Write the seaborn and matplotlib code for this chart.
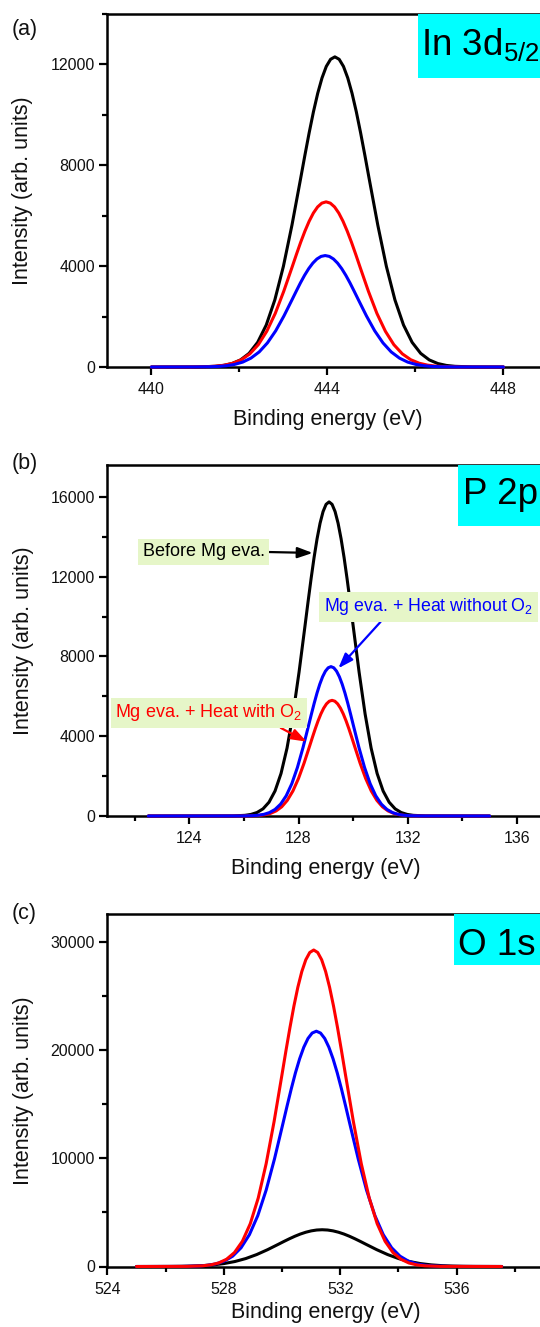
import matplotlib
matplotlib.use("Agg")
import matplotlib.pyplot as plt
import seaborn as sns
from matplotlib.patches import Rectangle
from matplotlib.ticker import MultipleLocator

sns.set_theme(style="ticks")
plt.rcParams['font.family'] = ['Liberation Sans', 'DejaVu Sans']
plt.rcParams['mathtext.fontset'] = 'custom'
plt.rcParams['mathtext.rm'] = 'Liberation Sans'
plt.rcParams['mathtext.it'] = 'Liberation Sans:italic'

# ---------------- Panel (a) In 3d5/2 ----------------
a_x_black = [440.0, 441.05, 441.44, 441.635, 441.83, 442.025, 442.22, 442.415, 442.61, 442.805, 443.0, 443.195,
             443.39, 443.4875, 443.585, 443.6825, 443.78, 443.8775, 443.975, 444.0725, 444.17, 444.2675, 444.365,
             444.4625, 444.56, 444.6575, 444.755, 444.8525, 444.95, 445.145, 445.34, 445.535, 445.73, 445.925,
             446.12, 446.315, 446.51, 446.705, 446.9, 447.29, 448.0]
a_y_black = [0, 4, 27, 62, 137, 281, 540, 979, 1665, 2660, 3993, 5631, 7460, 8388, 9285, 10119, 10855, 11464,
             11922, 12204, 12300, 12204, 11922, 11464, 10855, 10119, 9285, 8388, 7460, 5631, 3993, 2660, 1665,
             979, 540, 281, 137, 62, 27, 4, 0]
a_x_red = [440.0, 440.89, 441.275, 441.467, 441.66, 441.852, 442.045, 442.237, 442.43, 442.622, 442.815, 443.007,
           443.2, 443.296, 443.392, 443.489, 443.585, 443.681, 443.777, 443.874, 443.97, 444.066, 444.163,
           444.259, 444.355, 444.451, 444.548, 444.644, 444.74, 444.933, 445.125, 445.318, 445.51, 445.703,
           445.895, 446.088, 446.28, 446.473, 446.665, 447.05, 448.0]
a_y_red = [0, 2, 14, 33, 73, 149, 288, 521, 886, 1417, 2126, 2999, 3973, 4467, 4944, 5388, 5780, 6105, 6348,
           6499, 6550, 6499, 6348, 6105, 5780, 5388, 4944, 4467, 3973, 2999, 2126, 1417, 886, 521, 288, 149, 73,
           33, 14, 2, 0]
a_x_blue = [440.0, 440.95, 441.325, 441.512, 441.7, 441.887, 442.075, 442.262, 442.45, 442.637, 442.825, 443.012,
            443.2, 443.294, 443.387, 443.481, 443.575, 443.669, 443.762, 443.856, 443.95, 444.044, 444.138,
            444.231, 444.325, 444.419, 444.513, 444.606, 444.7, 444.888, 445.075, 445.263, 445.45, 445.638,
            445.825, 446.013, 446.2, 446.388, 446.575, 446.95, 448.0]
a_y_blue = [0, 2, 10, 22, 49, 101, 194, 352, 598, 956, 1435, 2024, 2681, 3014, 3336, 3636, 3901, 4120, 4284,
            4386, 4420, 4386, 4284, 4120, 3901, 3636, 3336, 3014, 2681, 2024, 1435, 956, 598, 352, 194, 101, 49,
            22, 10, 2, 0]

# ---------------- Panel (b) P 2p ----------------
b_x_black = [122.5, 125.6, 126.04, 126.26, 126.48, 126.7, 126.92, 127.14, 127.36, 127.58, 127.8, 128.02, 128.24,
             128.35, 128.46, 128.57, 128.68, 128.79, 128.9, 129.01, 129.12, 129.23, 129.34, 129.45, 129.56, 129.67,
             129.78, 129.89, 130.0, 130.22, 130.44, 130.66, 130.88, 131.1, 131.32, 131.54, 131.76, 131.98, 132.2,
             132.64, 135.0]
b_y_black = [0, 5, 34, 80, 175, 359, 692, 1253, 2132, 3406, 5113, 7211, 9553, 10741, 11889, 12957, 13899, 14680,
             15265, 15627, 15750, 15627, 15265, 14680, 13899, 12957, 11889, 10741, 9553, 7211, 5113, 3406, 2132,
             1253, 692, 359, 175, 80, 34, 5, 0]
b_x_red = [122.5, 125.95, 126.36, 126.565, 126.77, 126.975, 127.18, 127.385, 127.59, 127.795, 128.0, 128.205,
           128.41, 128.5125, 128.615, 128.7175, 128.82, 128.9225, 129.025, 129.1275, 129.23, 129.3325, 129.435,
           129.5375, 129.64, 129.7425, 129.845, 129.9475, 130.05, 130.255, 130.46, 130.665, 130.87, 131.075,
           131.28, 131.485, 131.69, 131.895, 132.1, 132.51, 135.0]
b_y_red = [0, 2, 13, 29, 64, 132, 255, 461, 785, 1254, 1883, 2655, 3518, 3955, 4378, 4771, 5119, 5406, 5622,
           5755, 5800, 5755, 5622, 5406, 5119, 4771, 4378, 3955, 3518, 2655, 1883, 1254, 785, 461, 255, 132, 64,
           29, 13, 2, 0]
b_x_blue = [122.5, 125.91, 126.32, 126.525, 126.73, 126.935, 127.14, 127.345, 127.55, 127.755, 127.96, 128.165,
            128.37, 128.4725, 128.575, 128.6775, 128.78, 128.8825, 128.985, 129.0875, 129.19, 129.2925, 129.395,
            129.4975, 129.6, 129.7025, 129.805, 129.9075, 130.01, 130.215, 130.42, 130.625, 130.83, 131.035,
            131.24, 131.445, 131.65, 131.855, 132.06, 132.47, 135.0]
b_y_blue = [0, 3, 16, 38, 83, 171, 329, 596, 1014, 1620, 2432, 3429, 4543, 5108, 5654, 6162, 6610, 6981, 7260,
            7432, 7490, 7432, 7260, 6981, 6610, 6162, 5654, 5108, 4543, 3429, 2432, 1620, 1014, 596, 329, 171, 83,
            38, 16, 3, 0]

# ---------------- Panel (c) O 1s ----------------
c_x_black = [525.0, 525.38, 526.13, 526.505, 526.88, 527.255, 527.63, 528.005, 528.38, 528.755, 529.13, 529.505,
             529.88, 530.0675, 530.255, 530.4425, 530.63, 530.8175, 531.005, 531.1925, 531.38, 531.5675, 531.755,
             531.9425, 532.13, 532.3175, 532.505, 532.6925, 532.88, 533.255, 533.63, 534.005, 534.38, 534.755,
             535.13, 535.505, 535.88, 536.255, 536.63, 537.38, 537.55]
c_y_black = [0, 1, 7, 17, 38, 78, 149, 271, 460, 735, 1104, 1557, 2062, 2319, 2566, 2797, 3001, 3169, 3295, 3374,
             3400, 3374, 3295, 3169, 3001, 2797, 2566, 2319, 2062, 1557, 1104, 735, 460, 271, 149, 78, 38, 17, 7,
             1, 0]
c_x_blue = [525.0, 526.58, 527.155, 527.443, 527.73, 528.018, 528.305, 528.593, 528.88, 529.168, 529.455, 529.743,
            530.03, 530.174, 530.318, 530.461, 530.605, 530.749, 530.893, 531.036, 531.18, 531.324, 531.468,
            531.611, 531.755, 531.899, 532.043, 532.186, 532.33, 532.618, 532.905, 533.193, 533.48, 533.768,
            534.055, 534.343, 534.63, 534.918, 535.205, 535.78, 537.55]
c_y_blue = [0, 7, 48, 111, 242, 497, 956, 1731, 2945, 4706, 7064, 9962, 13198, 14839, 16425, 17901, 19203, 20281,
            21090, 21591, 21760, 21591, 21090, 20281, 19203, 17901, 16425, 14839, 13198, 9962, 7064, 4706, 2945,
            1731, 956, 497, 242, 111, 48, 7, 0]
c_x_red = [525.0, 526.73, 527.275, 527.548, 527.82, 528.093, 528.365, 528.638, 528.91, 529.183, 529.455, 529.728,
           530.0, 530.136, 530.273, 530.409, 530.545, 530.681, 530.818, 530.954, 531.09, 531.226, 531.363,
           531.499, 531.635, 531.771, 531.908, 532.044, 532.18, 532.453, 532.725, 532.998, 533.27, 533.543,
           533.815, 534.088, 534.36, 534.633, 534.905, 535.45, 537.55]
c_y_red = [0, 10, 64, 149, 325, 668, 1286, 2329, 3961, 6330, 9503, 13401, 17753, 19960, 22094, 24079, 25831,
           27281, 28369, 29042, 29270, 29042, 28369, 27281, 25831, 24079, 22094, 19960, 17753, 13401, 9503, 6330,
           3961, 2329, 1286, 668, 325, 149, 64, 10, 0]

panel_letters = ["(a)", "(b)", "(c)"]
panel_titles = ["In 3d$_\\mathregular{5/2}$", "P 2p", "O 1s"]
xlims = [(439, 449), (121, 137), (524, 539)]
ylims = [(0, 14000), (0, 17600), (0, 32600)]
xmajor = [4, 4, 4]
xminor = [2, 2, 2]
ymajor = [4000, 4000, 10000]
yminor = [2000, 2000, 5000]

W, H = 540, 1327
fig = plt.figure(figsize=(W / 100, H / 100), dpi=100)
fig.patch.set_facecolor('white')

# axes rectangles in pixels: left, top, right, bottom
rects_px = [(107.4, 14, 547.4, 367), (107.4, 465, 544.2, 816), (107.4, 914, 543.9, 1266.5)]
axes = []
for (l, t, r, b) in rects_px:
    ax = fig.add_axes([l / W, 1 - b / H, (r - l) / W, (b - t) / H])
    axes.append(ax)

series = [
    [(a_x_black, a_y_black, 'black'), (a_x_red, a_y_red, 'red'), (a_x_blue, a_y_blue, 'blue')],
    [(b_x_black, b_y_black, 'black'), (b_x_red, b_y_red, 'red'), (b_x_blue, b_y_blue, 'blue')],
    [(c_x_black, c_y_black, 'black'), (c_x_blue, c_y_blue, 'blue'), (c_x_red, c_y_red, 'red')],
]
xlabel_y = [-0.12, -0.12, -0.10]

for i, ax in enumerate(axes):
    for xs, ys, col in series[i]:
        sns.lineplot(x=xs, y=ys, ax=ax, color=col, lw=2.2, zorder=3, clip_on=False,
                     solid_joinstyle='round', solid_capstyle='round')
    ax.set_xlim(*xlims[i])
    ax.set_ylim(*ylims[i])
    ax.xaxis.set_major_locator(MultipleLocator(xmajor[i]))
    ax.xaxis.set_minor_locator(MultipleLocator(xminor[i]))
    ax.yaxis.set_major_locator(MultipleLocator(ymajor[i]))
    ax.yaxis.set_minor_locator(MultipleLocator(yminor[i]))
    if i == 0:
        ax.set_xticks([440, 444, 448])
        ax.set_xticks([442, 446], minor=True)
    ax.tick_params(which='major', direction='out', length=6, width=1.6, labelsize=11.5, pad=3,
                   top=False, right=False, color='black', labelcolor='#111111')
    ax.tick_params(which='minor', direction='out', length=3.5, width=1.6, top=False, right=False, color='black')
    ax.tick_params(axis='x', which='major', pad=5)
    for s in ['left', 'bottom', 'top']:
        ax.spines[s].set_linewidth(1.8)
        ax.spines[s].set_color('black')
    ax.spines['right'].set_visible(False)
    ax.set_facecolor('white')
    ax.set_xlabel("Binding energy (eV)", fontsize=15.5, color='#111111')
    ax.set_ylabel("Intensity (arb. units)", fontsize=15.5, color='#111111')
    ax.xaxis.set_label_coords(0.5, xlabel_y[i])
    ax.yaxis.set_label_coords(-0.168, 0.5)

# cyan title boxes
title_boxes = [(0.706, 0.820, 0.713, 0.884), (0.802, 0.826, 0.814, 0.89), (0.794, 0.854, 0.803, 0.885)]
for ax, (bx, by, tx, ty), title in zip(axes, title_boxes, panel_titles):
    ax.add_patch(Rectangle((bx, by), 0.6, 1 - by, transform=ax.transAxes, facecolor='#00FFFF',
                           edgecolor='none', zorder=4, clip_on=False))
    ax.text(tx, ty, title, transform=ax.transAxes, fontsize=26.5, ha='left', va='baseline', zorder=5,
            color='black', clip_on=False)

# panel letters
for letter, yc in zip(panel_letters, [29, 464, 913.5]):
    fig.text(12 / W, 1 - yc / H, letter, fontsize=15.5, ha='left', va='center', color='#111111')

# annotations in panel (b)
axb = axes[1]
green = '#E6F6C8'
arrow_style = '-|>,head_length=0.7,head_width=0.25'
axb.annotate("Before Mg eva.", xy=(128.52, 13190), xytext=(122.3, 13240),
             fontsize=13, color='black', ha='left', va='center',
             bbox=dict(boxstyle='square,pad=0.25', fc=green, ec='none'),
             arrowprops=dict(arrowstyle=arrow_style, color='black', lw=1.6,
                             shrinkA=0, shrinkB=0, relpos=(1, 0.5)), zorder=6)
axb.annotate("Mg eva. + Heat without O$_\\mathregular{2}$", xy=(129.46, 7408), xytext=(128.93, 10480),
             fontsize=12.8, color='blue', ha='left', va='center',
             bbox=dict(boxstyle='square,pad=0.25', fc=green, ec='none'),
             arrowprops=dict(arrowstyle=arrow_style, color='blue', lw=1.6,
                             shrinkA=0, shrinkB=0, relpos=(0.29, 0)), zorder=6, annotation_clip=False)
axb.annotate("Mg eva. + Heat with O$_\\mathregular{2}$", xy=(128.3, 3727), xytext=(121.28, 5170),
             fontsize=13, color='red', ha='left', va='center',
             bbox=dict(boxstyle='square,pad=0.25', fc=green, ec='none'),
             arrowprops=dict(arrowstyle=arrow_style, color='red', lw=1.6,
                             shrinkA=0, shrinkB=0, relpos=(0.84, 0)), zorder=6)

fig.savefig("out.png", dpi=100, facecolor='white')
